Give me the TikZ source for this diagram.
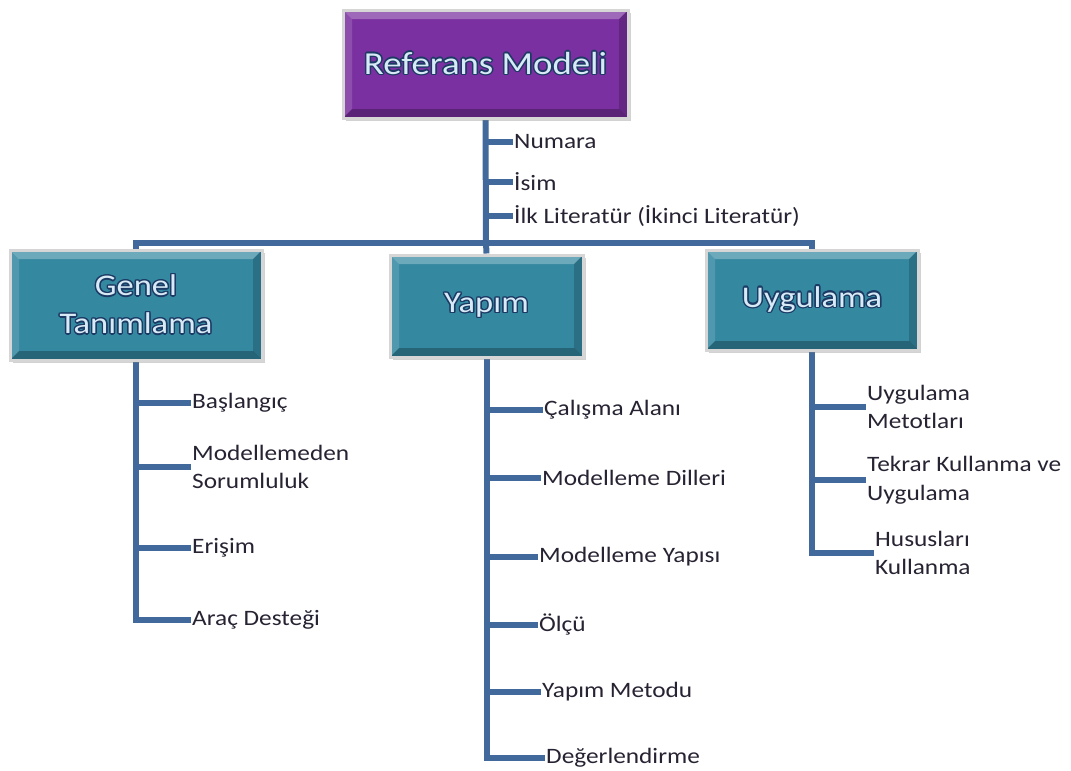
\documentclass[tikz,border=0pt]{standalone}
\usepackage{fontspec}
\setmainfont{Carlito}[FakeStretch=1.15]
\usepackage{contour}
\usetikzlibrary{shadows}
\definecolor{conncol}{RGB}{65,105,155}
\definecolor{labcol}{RGB}{40,35,50}
\definecolor{purplebox}{RGB}{122,48,160}
\definecolor{tealbox}{RGB}{52,136,160}
\definecolor{boxtext}{RGB}{215,234,246}
\definecolor{boxedge}{RGB}{28,58,100}
\contourlength{1.4pt}
\contournumber{12}
\pgfdeclarelayer{backdrop}
\pgfdeclarelayer{bg}
\pgfsetlayers{backdrop,bg,main}
\tikzset{
  conn/.style={draw=conncol, line width=6pt},
  lab/.style={anchor=west, text=labcol, font=\fontsize{22}{28.5}\selectfont, inner sep=1pt, align=left},
  bevelbox/.style={fill=#1, draw=black!16, line width=3pt,
    drop shadow={shadow xshift=2.5pt, shadow yshift=-2.5pt, opacity=.35},
    text=boxtext, align=center, inner sep=0pt,
    path picture={
      \fill[white,opacity=.28] (path picture bounding box.north west) -- (path picture bounding box.north east)
        -- ([xshift=-9pt,yshift=-9pt]path picture bounding box.north east) -- ([xshift=9pt,yshift=-9pt]path picture bounding box.north west) -- cycle;
      \fill[white,opacity=.14] (path picture bounding box.north west) -- (path picture bounding box.south west)
        -- ([xshift=9pt,yshift=9pt]path picture bounding box.south west) -- ([xshift=9pt,yshift=-9pt]path picture bounding box.north west) -- cycle;
      \fill[black,opacity=.25] (path picture bounding box.south west) -- (path picture bounding box.south east)
        -- ([xshift=-9pt,yshift=9pt]path picture bounding box.south east) -- ([xshift=9pt,yshift=9pt]path picture bounding box.south west) -- cycle;
      \fill[black,opacity=.18] (path picture bounding box.north east) -- (path picture bounding box.south east)
        -- ([xshift=-9pt,yshift=9pt]path picture bounding box.south east) -- ([xshift=-9pt,yshift=-9pt]path picture bounding box.north east) -- cycle;
    }},
  bigfont/.style={font=\fontsize{#1}{38}\selectfont}
}
\begin{document}
\begin{tikzpicture}[x=1pt,y=-1pt]
\begin{pgfonlayer}{backdrop}
  \fill[white] (0,0) rectangle (1071,771);
\end{pgfonlayer}
\useasboundingbox (0,0) rectangle (1071,771);

% header boxes
\node[bevelbox=purplebox, minimum width=285pt, minimum height=108pt, bigfont=32] (ref) at (485.5,64) {\contour{boxedge}{Referans Modeli}};
\node[bevelbox=tealbox, minimum width=252pt, minimum height=110pt, bigfont=30] (gen) at (136,305) {\contour{boxedge}{Genel}\\\contour{boxedge}{Tanımlama}};
\node[bevelbox=tealbox, minimum width=193pt, minimum height=102pt, bigfont=30] (yap) at (486.5,306) {\contour{boxedge}{Yapım}};
\node[bevelbox=tealbox, minimum width=212pt, minimum height=100pt, bigfont=30] (uyg) at (812,300) {\contour{boxedge}{Uygulama}};
\coordinate (hub) at (486,243);

% attributes of the reference model
\node[lab] (num) at (513,142) {Numara};
\node[lab] (isim) at (513,182) {İsim};
\node[lab] (ilk) at (513,216) {İlk Literatür (İkinci Literatür)};

% general definition
\node[lab] (bas) at (191,403) {Başlangıç};
\node[lab] (mod) at (191,467) {Modellemeden\\Sorumluluk};
\node[lab] (eri) at (191,548) {Erişim};
\node[lab] (arac) at (191,620) {Araç Desteği};

% construction
\node[lab] (cal) at (543,410) {Çalışma Alanı};
\node[lab] (dil) at (541,478) {Modelleme Dilleri};
\node[lab] (yps) at (538,557) {Modelleme Yapısı};
\node[lab] (olc) at (538,625) {Ölçü};
\node[lab] (ymet) at (541,692) {Yapım Metodu};
\node[lab] (deg) at (545,758) {Değerlendirme};

% application
\node[lab] (um) at (866,407) {Uygulama\\Metotları};
\node[lab] (tk) at (866,480) {Tekrar Kullanma ve\\Uygulama};
\node[lab] (hk) at (874,553) {Hususları\\Kullanma};

\begin{pgfonlayer}{bg}
  \draw[conn] (ref.south) -- (hub);
  \draw[conn] (gen.north) |- (hub) -| (uyg.north);
  \draw[conn] (hub) -- (yap.north);
  \foreach \n in {num,isim,ilk} \draw[conn] (ref.south |- \n.west) -- (\n.west);
  \draw[conn] (gen.south) |- (arac.west);
  \foreach \n in {bas,mod,eri} \draw[conn] (gen.south |- \n.west) -- (\n.west);
  \draw[conn] (yap.south) |- (deg.west);
  \foreach \n in {cal,dil,yps,olc,ymet} \draw[conn] (yap.south |- \n.west) -- (\n.west);
  \draw[conn] (uyg.south) |- (hk.west);
  \foreach \n in {um,tk} \draw[conn] (uyg.south |- \n.west) -- (\n.west);
\end{pgfonlayer}
\end{tikzpicture}
\end{document}
